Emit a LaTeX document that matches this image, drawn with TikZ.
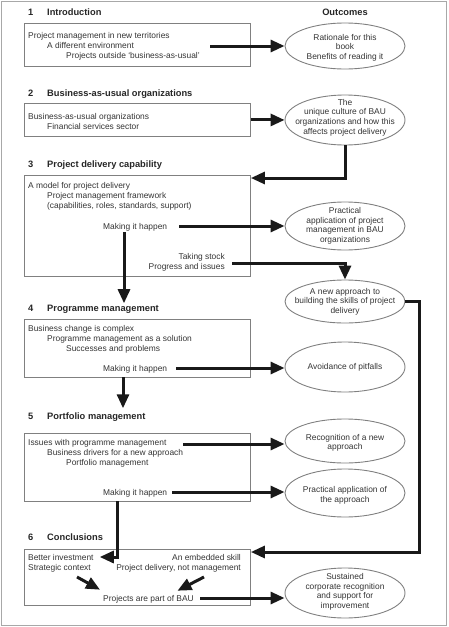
\documentclass[tikz,border=0pt]{standalone}
\usepackage{fontspec}
\setmainfont{Liberation Sans}
\usepackage{xcolor}
\usetikzlibrary{shapes.geometric,arrows.meta}
\definecolor{inkgray}{HTML}{333333}
\definecolor{linegray}{HTML}{808080}
\definecolor{framegray}{HTML}{A8A8A8}
\newcommand{\itemsize}{\fontsize{8.4}{10}\selectfont}
\newcommand{\headsize}{\fontsize{9.3}{11}\selectfont\bfseries}

\begin{document}
\begin{tikzpicture}[x=1pt,y=-1pt,
 box/.style={draw=linegray,line width=0.9pt,anchor=north west,inner sep=0pt,minimum width=226pt},
 outcome/.style={ellipse,draw=linegray,line width=0.9pt,inner sep=0pt,minimum width=120pt},
 outtext/.style={align=center,inner sep=0pt,text=inkgray,font=\fontsize{8.4}{9.6}\selectfont},
 item/.style={anchor=base west,inner sep=0pt,text=inkgray,font=\itemsize},
 itemr/.style={item,anchor=base east},
 head/.style={anchor=base west,inner sep=0pt,text=black!85,font=\headsize},
 flow/.style={line width=3pt,black!90,-{Triangle[length=14pt,width=12pt]}}]
 \useasboundingbox (0,0) rectangle (448,627);
 \draw[framegray,line width=1pt] (1.5,1.5) rectangle (446.5,625.5);

 \node[head] (h1) at (28,15.8) {\makebox[19pt][l]{1}Introduction};
 \node[head,anchor=base] (hout) at (345,15.8) {Outcomes};
 \node[head] (h2) at (28,96.2) {\makebox[19pt][l]{2}Business-as-usual organizations};
 \node[head] (h3) at (28,167.5) {\makebox[19pt][l]{3}Project delivery capability};
 \node[head] (h4) at (28,311.8) {\makebox[19pt][l]{4}Programme management};
 \node[head] (h5) at (28,419.2) {\makebox[19pt][l]{5}Portfolio management};
 \node[head] (h6) at (28,540.8) {\makebox[19pt][l]{6}Conclusions};

 \node[box,minimum height=43pt] (b1) at (24,23) {};
 \node[box,minimum height=33pt] (b2) at (24,103) {};
 \node[box,minimum height=101.5pt] (b3) at (24,174.5) {};
 \node[box,minimum height=58pt] (b4) at (24,319) {};
 \node[box,minimum height=68pt] (b5) at (24,433) {};
 \node[box,minimum height=56.5pt] (b6) at (24,548.5) {};

 \node[item] (pm1) at (28,38) {Project management in new territories};
 \node[item] (de1) at (47,48) {A different environment};
 \node[item] (po1) at (66,58) {Projects outside `business-as-usual'};

 \node[item] (bu2) at (28,119) {Business-as-usual organizations};
 \node[item] (fs2) at (47,129) {Financial services sector};

 \node[item] (mo3) at (28,188) {A model for project delivery};
 \node[item] (fw3) at (47,198) {Project management framework};
 \node[item] (ca3) at (47,208) {(capabilities, roles, standards, support)};
 \node[item] (m3) at (103,229) {Making it happen};
 \node[itemr] (ts3) at (225,259) {Taking stock};
 \node[itemr] (p3) at (225,269) {Progress and issues};

 \node[item] (bc4) at (28,331) {Business change is complex};
 \node[item] (ps4) at (47,341) {Programme management as a solution};
 \node[item] (sp4) at (66,351) {Successes and problems};
 \node[item] (m4) at (103,371) {Making it happen};

 \node[item] (i5) at (28,445) {Issues with programme management};
 \node[item] (dr5) at (47,455) {Business drivers for a new approach};
 \node[item] (pf5) at (66,465) {Portfolio management};
 \node[item] (m5) at (103,495.5) {Making it happen};

 \node[item] (bi) at (28,560) {Better investment};
 \node[item] (sc) at (28,570) {Strategic context};
 \node[itemr] (es) at (241,560) {An embedded skill};
 \node[itemr] (pd) at (241,570) {Project delivery, not management};
 \node[item] (pb) at (103,601) {Projects are part of BAU};

 \node[outcome,minimum height=46pt] (o1) at (345,46) {};
 \node[outcome,minimum height=50pt] (o2) at (345,120) {};
 \node[outcome,minimum height=48pt] (o3) at (345,226) {};
 \node[outcome,minimum height=43pt] (o4) at (345,301.5) {};
 \node[outcome,minimum height=50pt] (o5) at (345,367) {};
 \node[outcome,minimum height=44pt] (o6) at (345,441) {};
 \node[outcome,minimum height=48pt] (o7) at (345,493) {};
 \node[outcome,minimum height=50pt] (o8) at (345,593) {};

 \node[outtext] (o1t) at (345,47.5) {Rationale for this\\book\\Benefits of reading it};
 \node[outtext] (o2t) at (345,117.5) {The\\unique culture of BAU\\organizations and how this\\affects project delivery};
 \node[outtext] (o3t) at (345,226) {Practical\\application of project\\management in BAU\\organizations};
 \node[outtext] (o4t) at (345,301.5) {A new approach to\\building the skills of project\\delivery};
 \node[outtext] (o5t) at (345,367) {Avoidance of pitfalls};
 \node[outtext] (o6t) at (345,443) {Recognition of a new\\approach};
 \node[outtext] (o7t) at (345,495.5) {Practical application of\\the approach};
 \node[outtext] (o8t) at (345,592) {Sustained\\corporate recognition\\and support for\\improvement};

 \coordinate (s1) at (210,46);
 \coordinate (s3) at (179,226);
 \coordinate (s4) at (232,263);
 \coordinate (d3) at (124,232);
 \coordinate (s5) at (176,368);
 \coordinate (d4) at (123,377);
 \coordinate (s6) at (183,444);
 \coordinate (s7) at (172,492);
 \coordinate (d5) at (117,501);
 \coordinate (l6) at (77,577);
 \coordinate (r6) at (204,577);
 \coordinate (s8) at (200,598);

 \draw[flow] (s1) -- (s1 -| o1.west);
 \draw[flow] (b2.east) -- (b2.east -| o2.west);
 \draw[flow] (o2.south) |- ([yshift=-3.5pt]b3.north east);
 \draw[flow] (s3) -- (s3 -| o3.west);
 \draw[flow] (s4) -| (o4.north);
 \draw[flow,shorten >=2pt] (d3) -- (d3 |- h4.north);
 \draw[flow] (s5) -- (s5 -| o5.west);
 \draw[flow,shorten >=4pt] (d4) -- (d4 |- h5.north);
 \draw[flow] (s6) -- (s6 -| o6.west);
 \draw[flow] (s7) -- (s7 -| o7.west);
 \draw[flow] (d5) |- ([xshift=6pt]bi.east);
 \draw[flow] (o4.east) -- ++(14,0) |- ([yshift=-3.5pt]b6.north east);
 \draw[flow] (l6) -- ([xshift=-3pt,yshift=5pt]pb.north west);
 \draw[flow] (r6) -- ([xshift=29pt,yshift=4pt]pb.north);
 \draw[flow] (s8) -- (s8 -| o8.west);
\end{tikzpicture}
\end{document}
